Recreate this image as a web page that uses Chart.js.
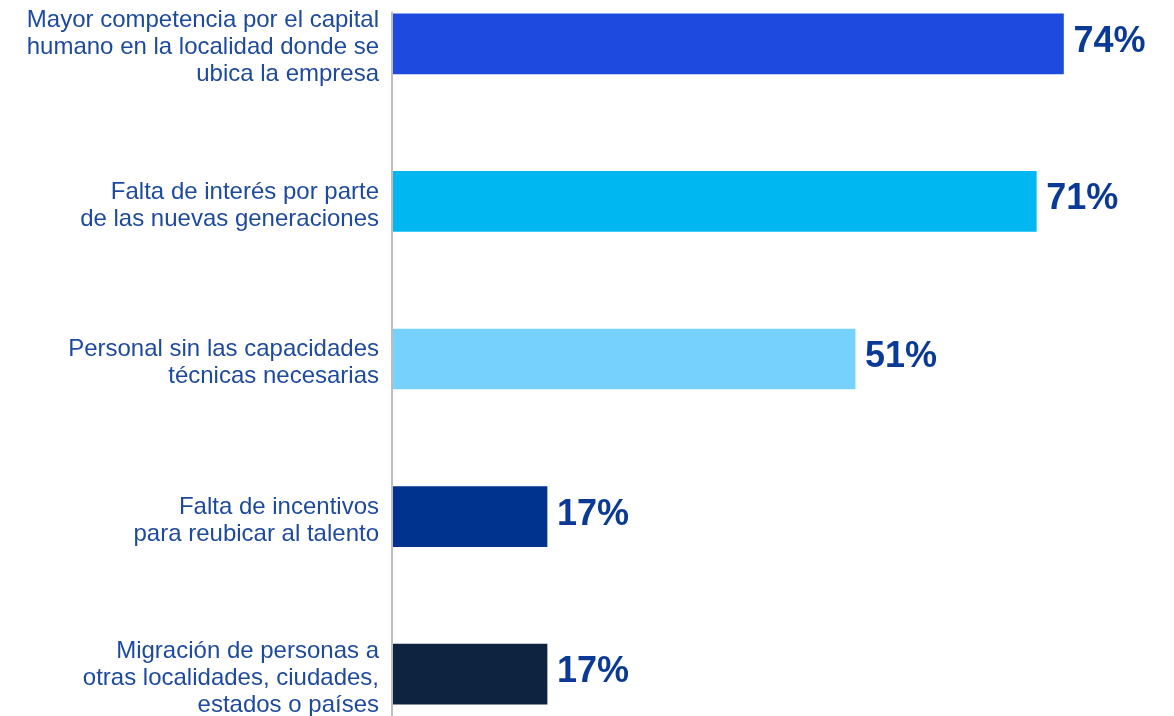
<!DOCTYPE html>
<html>
<head>
<meta charset="utf-8">
<script src="https://cdn.jsdelivr.net/npm/chart.js@4.4.1/dist/chart.umd.min.js"></script>
<style>
  html, body { margin: 0; padding: 0; background: #ffffff; overflow: hidden; width: 1174px; height: 716px; }
  #wrap { position: absolute; left: 0; top: -35px; width: 1174px; height: 788px; }
</style>
</head>
<body>
<div id="wrap"><canvas id="c" width="1174" height="788"></canvas></div>
<script>
const categories = [
  ["Mayor competencia por el capital", "humano en la localidad donde se", "ubica la empresa"],
  ["Falta de interés por parte", "de las nuevas generaciones"],
  ["Personal sin las capacidades", "técnicas necesarias"],
  ["Falta de incentivos", "para reubicar al talento"],
  ["Migración de personas a", "otras localidades, ciudades,", "estados o países"]
];
const values = [74, 71, 51, 17, 17];
const valueLabels = ["74%", "71%", "51%", "17%", "17%"];
const barColors = ["#1f4ae0", "#00b7f1", "#76d1fd", "#00338d", "#0e2340"];

const valueLabelPlugin = {
  id: 'valueLabels',
  afterDatasetsDraw(chart) {
    const ctx = chart.ctx;
    const meta = chart.getDatasetMeta(0);
    ctx.save();
    ctx.font = 'bold 36px "Liberation Sans", Arial, sans-serif';
    ctx.fillStyle = '#0b3a96';
    ctx.textAlign = 'left';
    ctx.textBaseline = 'middle';
    meta.data.forEach((bar, i) => {
      ctx.fillText(valueLabels[i], bar.x + 10, bar.y - 2);
    });
    ctx.restore();
  }
};

const axisLinePlugin = {
  id: 'axisLine',
  beforeDatasetsDraw(chart) {
    const ctx = chart.ctx;
    const meta = chart.getDatasetMeta(0);
    const first = meta.data[0];
    const top = first.y - first.height / 2 - 2;
    const x = chart.chartArea.left - 1;
    ctx.save();
    ctx.strokeStyle = '#bdbdbd';
    ctx.lineWidth = 2;
    ctx.beginPath();
    ctx.moveTo(x, top);
    ctx.lineTo(x, chart.chartArea.bottom);
    ctx.stroke();
    ctx.restore();
  }
};

new Chart(document.getElementById('c'), {
  type: 'bar',
  data: {
    labels: categories,
    datasets: [{
      data: values,
      backgroundColor: barColors,
      borderWidth: 0,
      barThickness: 60
    }]
  },
  options: {
    indexAxis: 'y',
    responsive: false,
    maintainAspectRatio: false,
    animation: false,
    layout: { padding: 0 },
    plugins: {
      legend: { display: false },
      tooltip: { enabled: false },
      title: { display: false }
    },
    scales: {
      x: {
        display: false,
        min: 0,
        max: 86.2,
        grid: { display: false }
      },
      y: {
        afterFit(scale) {
          scale.width = 393;
          scale.paddingTop = 0;
          scale.paddingBottom = 0;
        },
        grid: { display: false, drawTicks: false },
        border: { display: false },
        ticks: {
          padding: 14,
          labelOffset: 4,
          color: '#1d4a9c',
          font: { family: '"Liberation Sans", Arial, sans-serif', size: 24, lineHeight: 1.125 },
          crossAlign: 'near'
        }
      }
    }
  },
  plugins: [valueLabelPlugin, axisLinePlugin]
});
</script>
</body>
</html>
